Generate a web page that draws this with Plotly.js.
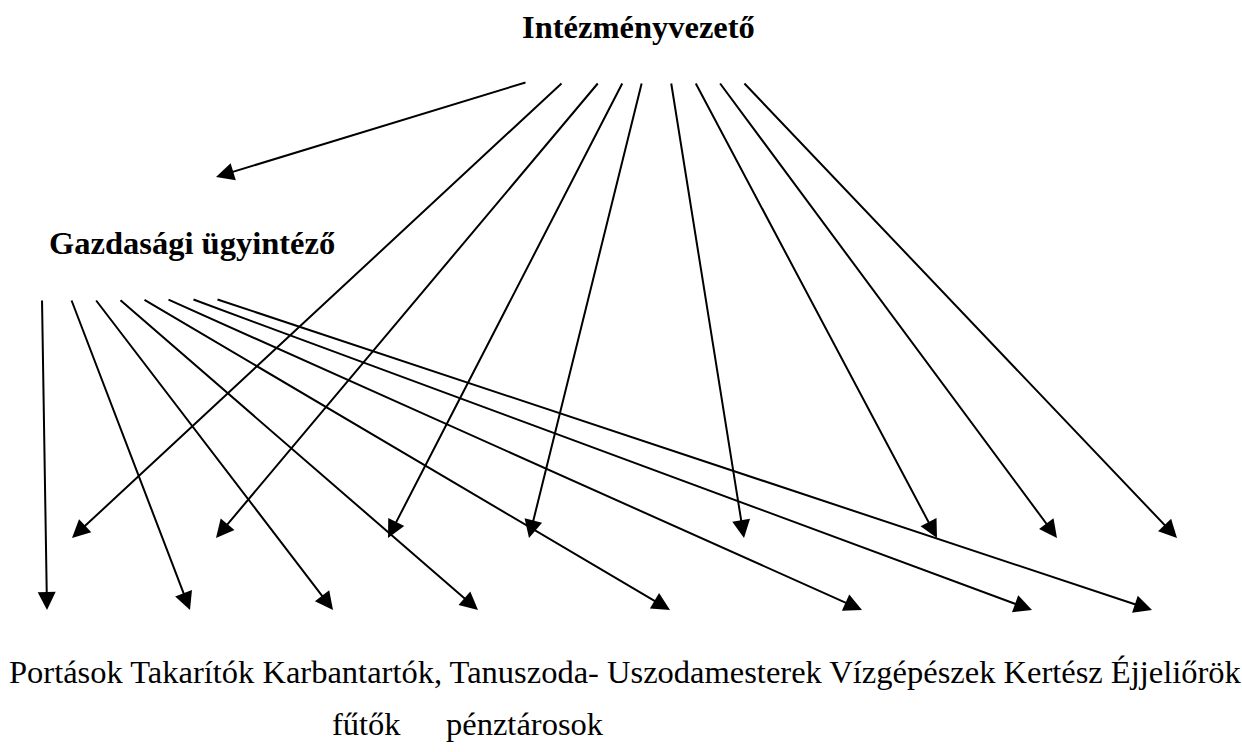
<!DOCTYPE html>
<html>
<head>
<meta charset="utf-8">
<script src="https://cdn.plot.ly/plotly-3.0.1.min.js"></script>
<style>html,body{margin:0;padding:0;background:#fff;}#chart{width:1242px;height:752px;}</style>
</head>
<body>
<div id="chart"></div>
<script>
// Node labels
const topLabel = "Intézményvezető";
const midLabel = "Gazdasági ügyintéző";
const bottomLine1 = "Portások Takarítók Karbantartók, Tanuszoda- Uszodamesterek Vízgépészek Kertész Éjjeliőrök";
const bottomLine2a = "fűtők";
const bottomLine2b = "pénztárosok";

// Arrow from Intézményvezető to Gazdasági ügyintéző
const leadStartX = [527], leadStartY = [82];
const leadEndX = [216], leadEndY = [177];

// Arrows from Intézményvezető to the upper row of targets
const topStartX = [563, 599, 623, 642, 671, 695, 719, 743];
const topStartY = [82, 82, 82, 82, 82, 82, 82, 82];
const topEndX   = [72, 216, 388, 529, 744, 937, 1057, 1177];
const topEndY   = [538, 538, 538, 538, 538, 538, 538, 538];

// Arrows from Gazdasági ügyintéző to the lower row of targets
const midStartX = [42, 71, 95, 119, 143, 167, 192, 216];
const midStartY = [299, 299, 299, 299, 299, 299, 299, 299];
const midEndX   = [47, 190, 333, 478, 670, 862, 1032, 1152];
const midEndY   = [610, 610, 610, 610, 610, 610, 610, 610];

const annotations = [];
function addArrows(sx, sy, ex, ey) {
  for (let i = 0; i < sx.length; i++) {
    annotations.push({
      x: ex[i], y: ey[i], xref: 'x', yref: 'y',
      ax: sx[i], ay: sy[i], axref: 'x', ayref: 'y',
      showarrow: true, arrowhead: 2, arrowsize: 1.8, arrowwidth: 2,
      arrowcolor: '#000', text: ''
    });
  }
}
addArrows(leadStartX, leadStartY, leadEndX, leadEndY);
addArrows(topStartX, topStartY, topEndX, topEndY);
addArrows(midStartX, midStartY, midEndX, midEndY);

const serif = 'Liberation Serif, Times New Roman, serif';
annotations.push({x: 638, y: 27, xref: 'x', yref: 'y', text: '<b>' + topLabel + '</b>', showarrow: false,
  xanchor: 'center', yanchor: 'middle', font: {family: serif, size: 32.5, color: '#000'}});
annotations.push({x: 47, y: 243, xref: 'x', yref: 'y', text: '<b>' + midLabel + '</b>', showarrow: false,
  xanchor: 'left', yanchor: 'middle', font: {family: serif, size: 32.5, color: '#000'}});
annotations.push({x: 7, y: 672, xref: 'x', yref: 'y', text: bottomLine1, showarrow: false,
  xanchor: 'left', yanchor: 'middle', font: {family: serif, size: 32.5, color: '#000'}});
annotations.push({x: 330, y: 724, xref: 'x', yref: 'y', text: bottomLine2a, showarrow: false,
  xanchor: 'left', yanchor: 'middle', font: {family: serif, size: 32.5, color: '#000'}});
annotations.push({x: 444, y: 724, xref: 'x', yref: 'y', text: bottomLine2b, showarrow: false,
  xanchor: 'left', yanchor: 'middle', font: {family: serif, size: 32.5, color: '#000'}});

const layout = {
  width: 1242, height: 752,
  margin: {l: 0, r: 0, t: 0, b: 0},
  paper_bgcolor: '#fff', plot_bgcolor: '#fff',
  xaxis: {range: [0, 1242], visible: false, fixedrange: true},
  yaxis: {range: [752, 0], visible: false, fixedrange: true},
  showlegend: false,
  annotations: annotations
};
Plotly.newPlot('chart', [{x: [], y: [], type: 'scatter', mode: 'markers', hoverinfo: 'skip'}], layout, {staticPlot: true});
</script>
</body>
</html>
